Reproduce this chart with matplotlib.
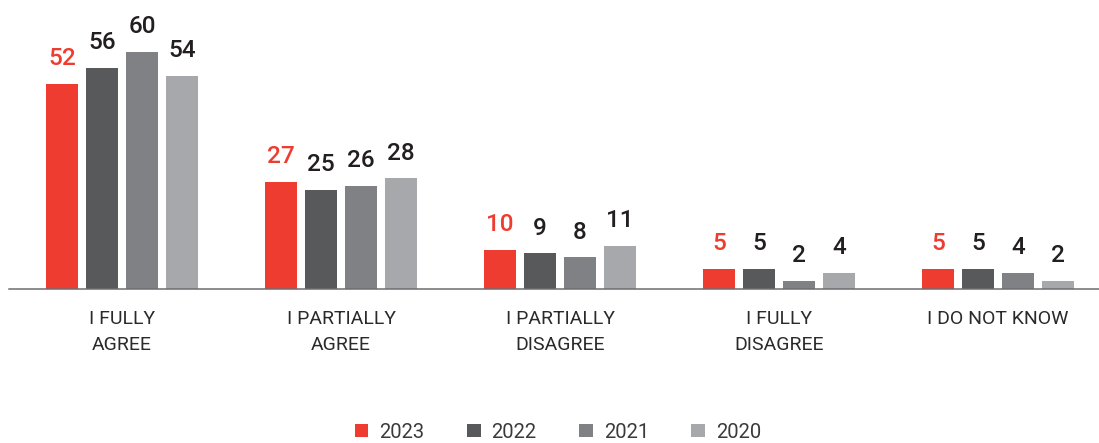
import matplotlib
matplotlib.use("Agg")
import matplotlib.pyplot as plt
import numpy as np

plt.rcParams['font.family'] = ['Roboto', 'DejaVu Sans']

# data
categories = ["I FULLY\nAGREE", "I PARTIALLY\nAGREE", "I PARTIALLY\nDISAGREE",
              "I FULLY\nDISAGREE", "I DO NOT KNOW"]
years = ["2023", "2022", "2021", "2020"]
v2023 = [52, 27, 10, 5, 5]
v2022 = [56, 25, 9, 5, 5]
v2021 = [60, 26, 8, 2, 4]
v2020 = [54, 28, 11, 4, 2]
series = [v2023, v2022, v2021, v2020]

colors = ["#EE3D30", "#58595B", "#808184", "#A7A8AB"]
text_colors = ["#EE3D30", "#231F20", "#231F20", "#231F20"]

W, H = 1099, 443
fig = plt.figure(figsize=(W / 100, H / 100), dpi=100)
ax = fig.add_axes([9 / W, (H - 289) / H, 1090 / W, 276.5 / H])

x = np.arange(len(categories))
step = 40 / 219
width = 32 / 219

for k, vals in enumerate(series):
    pos = x + (k - 1.5) * step
    bars = ax.bar(pos, vals, width, color=colors[k], label=years[k], zorder=2)
    for b, v in zip(bars, vals):
        ax.annotate(str(v), (b.get_x() + b.get_width() / 2, v),
                    xytext=(0, 10), textcoords="offset points",
                    ha="center", va="bottom", fontsize=17.5, fontweight="medium",
                    color=text_colors[k])

ax.set_xlim(-0.516, 4.461)
ax.set_ylim(0, 70)
for s in ["top", "right", "left"]:
    ax.spines[s].set_visible(False)
ax.spines["bottom"].set_color("#6D6E71")
ax.spines["bottom"].set_linewidth(1.1)
ax.set_yticks([])
ax.set_xticks(x)
ax.set_xticklabels(categories, fontsize=14, color="#2A2A2A", linespacing=1.6)
ax.tick_params(axis="x", length=0, pad=15)

leg = fig.legend(loc="center", bbox_to_anchor=(558 / W, 1 - 432 / H), ncol=4,
                 frameon=False, handlelength=0.68, handleheight=0.68,
                 handletextpad=0.55, columnspacing=2.1,
                 prop={"size": 14.5})
for t in leg.get_texts():
    t.set_color("#3A3A3A")

fig.savefig("out.png", dpi=100)
